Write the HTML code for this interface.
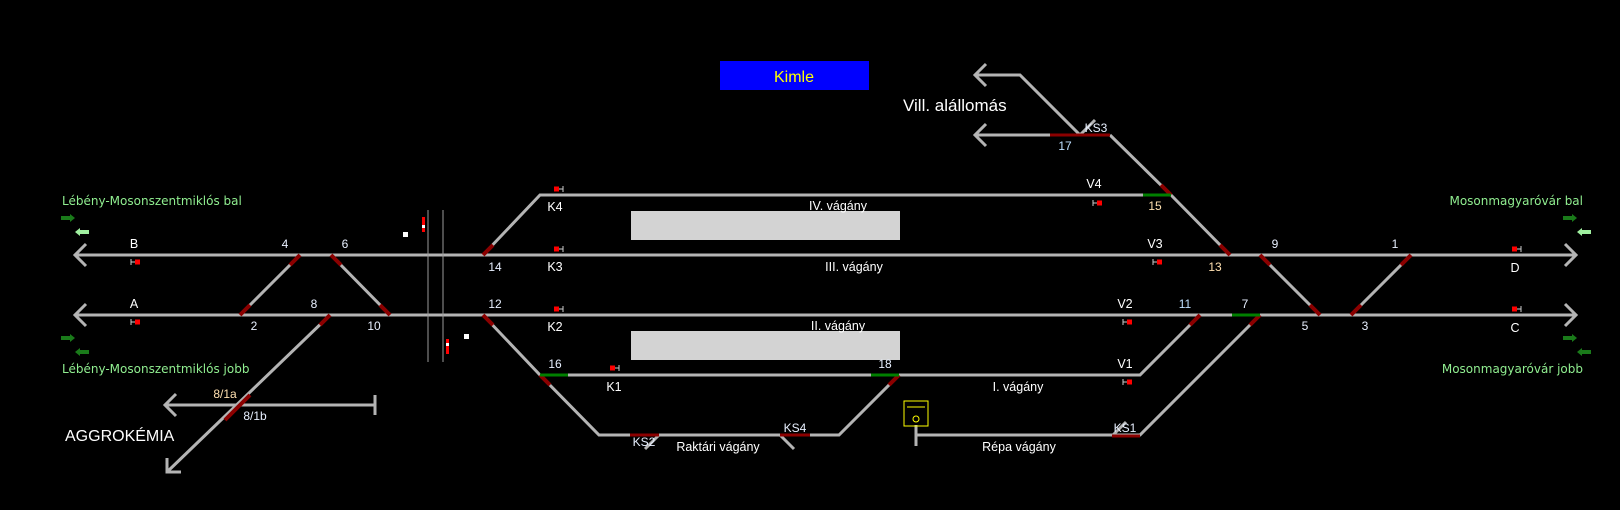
<!DOCTYPE html>
<html><head><meta charset="utf-8"><style>
html,body{margin:0;padding:0;background:#000;}
svg{display:block}
text{font-family:"Liberation Sans",sans-serif;}
.n{font-family:"DejaVu Sans Mono","Liberation Mono",monospace;font-size:12px;fill:#e8f0ff}
.l{font-size:12.5px;fill:#fff}
.g{font-size:12px;fill:#90ee90;font-family:"DejaVu Sans","Liberation Sans",sans-serif}
</style></head><body>
<svg width="1620" height="510" viewBox="0 0 1620 510" xmlns="http://www.w3.org/2000/svg">
<rect width="1620" height="510" fill="#000"/>
<rect x="720" y="61" width="149" height="29" fill="#0000ff"/>
<text x="794" y="82" font-size="16" fill="#ffff00" text-anchor="middle">Kimle</text>
<text x="903" y="111" font-size="17" fill="#fff">Vill. alállomás</text>
<rect x="631" y="211" width="269" height="29" fill="#d3d3d3"/>
<rect x="631" y="331" width="269" height="29" fill="#d3d3d3"/>
<g stroke="#b4b4b4" stroke-width="3" fill="none" stroke-linecap="butt">
<line x1="75" y1="255" x2="1576" y2="255"/>
<line x1="75" y1="315" x2="1576" y2="315"/>
<polyline points="86,244 75,255 86,266"/>
<polyline points="86,304 75,315 86,326"/>
<polyline points="1565,244 1576,255 1565,266"/>
<polyline points="1565,304 1576,315 1565,326"/>
<line x1="300" y1="255" x2="240" y2="315"/>
<line x1="331" y1="255" x2="390" y2="315"/>
<line x1="330" y1="315" x2="167" y2="472"/>
<polyline points="181,472 167,472 167,458"/>
<line x1="165" y1="405" x2="375" y2="405"/>
<polyline points="176,394 165,405 176,416"/>
<polyline points="483,255 540,195 1171,195"/>
<polyline points="483,315 540,375 1140,375 1200,315"/>
<polyline points="540,375 599,435 839,435 899,375"/>
<polyline points="916,435 1140,435 1260,315"/>
<polyline points="1230,255 1171,195 1110,135"/>
<line x1="1260" y1="255" x2="1320" y2="315"/>
<line x1="1411" y1="255" x2="1351" y2="315"/>
<polyline points="975,75 1020,75 1080,135"/>
<line x1="975" y1="135" x2="1110" y2="135"/>
<polyline points="986,64 975,75 986,86"/>
<polyline points="986,124 975,135 986,146"/>
<line x1="1080" y1="135" x2="1095" y2="120"/>
<line x1="659" y1="435" x2="645" y2="449"/>
<line x1="780" y1="435" x2="794" y2="449"/>
<line x1="1112" y1="436" x2="1126" y2="422"/>
</g>
<g stroke="#b4b4b4" stroke-width="3">
<line x1="375" y1="395" x2="375" y2="415"/>
<line x1="916" y1="425" x2="916" y2="446"/>
</g>
<g stroke="#8b0000" stroke-width="4">
<line x1="300" y1="255" x2="290" y2="265"/>
<line x1="240" y1="315" x2="250" y2="305"/>
<line x1="331" y1="255" x2="341" y2="265"/>
<line x1="390" y1="315" x2="380" y2="305"/>
<line x1="330" y1="315" x2="320" y2="325"/>
<line x1="250" y1="395" x2="225" y2="420"/>
<line x1="483" y1="255" x2="493" y2="245"/>
<line x1="483" y1="315" x2="493" y2="325"/>
<line x1="540" y1="375" x2="550" y2="385"/>
<line x1="899" y1="375" x2="889" y2="385"/>
<line x1="1171" y1="195" x2="1161" y2="185"/>
<line x1="1230" y1="255" x2="1220" y2="245"/>
<line x1="1260" y1="255" x2="1270" y2="265"/>
<line x1="1320" y1="315" x2="1310" y2="305"/>
<line x1="1411" y1="255" x2="1401" y2="265"/>
<line x1="1351" y1="315" x2="1361" y2="305"/>
<line x1="1200" y1="315" x2="1190" y2="325"/>
<line x1="1260" y1="315" x2="1250" y2="325"/>
<line x1="1050" y1="135" x2="1110" y2="135" stroke-width="3"/>
<line x1="630" y1="435" x2="659" y2="435" stroke-width="3"/>
<line x1="780" y1="435" x2="810" y2="435" stroke-width="3"/>
<line x1="1112" y1="436" x2="1140" y2="436" stroke-width="3"/>
</g>
<g stroke="#008000" stroke-width="3">
<line x1="540" y1="375" x2="568" y2="375"/>
<line x1="871" y1="375" x2="899" y2="375"/>
<line x1="1143" y1="195" x2="1171" y2="195"/>
<line x1="1232" y1="315" x2="1260" y2="315"/>
</g>
<g stroke="#9a9a9a" stroke-width="1">
<line x1="428" y1="210" x2="428" y2="362"/>
<line x1="443" y1="210" x2="443" y2="362"/>
</g>
<rect x="422" y="217" width="3" height="15" fill="#ff0000"/><rect x="422" y="225" width="3" height="3" fill="#fff"/>
<rect x="446" y="339" width="3" height="15" fill="#ff0000"/><rect x="446" y="343" width="3" height="3" fill="#fff"/>
<rect x="403" y="232" width="5" height="5" fill="#fff"/>
<rect x="464" y="334" width="5" height="5" fill="#fff"/>
<g fill="#ff0000" stroke="#ccc" stroke-width="1">
<g transform="translate(131,262)"><line x1="0" y1="-3" x2="0" y2="3"/><line x1="0" y1="0" x2="4" y2="0"/><rect x="4" y="-2.5" width="5" height="5" stroke="none"/></g>
<g transform="translate(131,322)"><line x1="0" y1="-3" x2="0" y2="3"/><line x1="0" y1="0" x2="4" y2="0"/><rect x="4" y="-2.5" width="5" height="5" stroke="none"/></g>
<g transform="translate(1093,203)"><line x1="0" y1="-3" x2="0" y2="3"/><line x1="0" y1="0" x2="4" y2="0"/><rect x="4" y="-2.5" width="5" height="5" stroke="none"/></g>
<g transform="translate(1153,262)"><line x1="0" y1="-3" x2="0" y2="3"/><line x1="0" y1="0" x2="4" y2="0"/><rect x="4" y="-2.5" width="5" height="5" stroke="none"/></g>
<g transform="translate(1123,322)"><line x1="0" y1="-3" x2="0" y2="3"/><line x1="0" y1="0" x2="4" y2="0"/><rect x="4" y="-2.5" width="5" height="5" stroke="none"/></g>
<g transform="translate(1123,382)"><line x1="0" y1="-3" x2="0" y2="3"/><line x1="0" y1="0" x2="4" y2="0"/><rect x="4" y="-2.5" width="5" height="5" stroke="none"/></g>
<g transform="translate(563,189)"><line x1="0" y1="-3" x2="0" y2="3"/><line x1="0" y1="0" x2="-4" y2="0"/><rect x="-9" y="-2.5" width="5" height="5" stroke="none"/></g>
<g transform="translate(563,249)"><line x1="0" y1="-3" x2="0" y2="3"/><line x1="0" y1="0" x2="-4" y2="0"/><rect x="-9" y="-2.5" width="5" height="5" stroke="none"/></g>
<g transform="translate(563,309)"><line x1="0" y1="-3" x2="0" y2="3"/><line x1="0" y1="0" x2="-4" y2="0"/><rect x="-9" y="-2.5" width="5" height="5" stroke="none"/></g>
<g transform="translate(619,368)"><line x1="0" y1="-3" x2="0" y2="3"/><line x1="0" y1="0" x2="-4" y2="0"/><rect x="-9" y="-2.5" width="5" height="5" stroke="none"/></g>
<g transform="translate(1521,249)"><line x1="0" y1="-3" x2="0" y2="3"/><line x1="0" y1="0" x2="-4" y2="0"/><rect x="-9" y="-2.5" width="5" height="5" stroke="none"/></g>
<g transform="translate(1521,309)"><line x1="0" y1="-3" x2="0" y2="3"/><line x1="0" y1="0" x2="-4" y2="0"/><rect x="-9" y="-2.5" width="5" height="5" stroke="none"/></g>
</g>
<rect x="904" y="401" width="24" height="25" fill="none" stroke="#ffff00" stroke-width="1"/>
<line x1="907" y1="407" x2="925" y2="407" stroke="#ffff00"/>
<circle cx="916" cy="419" r="3" fill="none" stroke="#ffff00"/>
<g>
<polygon points="61,216 70,216 70,214 75,218 70,222 70,220 61,220" fill="#1a7a1a"/>
<polygon points="89,230 80,230 80,228 75,232 80,236 80,234 89,234" fill="#a0f0a0"/>
<polygon points="61,336 70,336 70,334 75,338 70,342 70,340 61,340" fill="#1a7a1a"/>
<polygon points="89,350 80,350 80,348 75,352 80,356 80,354 89,354" fill="#1a7a1a"/>
<polygon points="1563,216 1572,216 1572,214 1577,218 1572,222 1572,220 1563,220" fill="#1a7a1a"/>
<polygon points="1591,230 1582,230 1582,228 1577,232 1582,236 1582,234 1591,234" fill="#a0f0a0"/>
<polygon points="1563,336 1572,336 1572,334 1577,338 1572,342 1572,340 1563,340" fill="#1a7a1a"/>
<polygon points="1591,350 1582,350 1582,348 1577,352 1582,356 1582,354 1591,354" fill="#1a7a1a"/>
</g>
<text class="g" x="62" y="205">Lébény-Mosonszentmiklós bal</text>
<text class="g" x="62" y="373">Lébény-Mosonszentmiklós jobb</text>
<text class="g" x="1583" y="205" text-anchor="end">Mosonmagyaróvár bal</text>
<text class="g" x="1583" y="373" text-anchor="end">Mosonmagyaróvár jobb</text>
<text x="65" y="441" font-size="16" fill="#fff">AGGROKÉMIA</text>
<g class="l" text-anchor="middle">
<text x="134" y="248">B</text><text x="134" y="308">A</text>
<text x="555" y="211">K4</text><text x="555" y="271">K3</text><text x="555" y="331">K2</text><text x="614" y="391">K1</text>
<text x="838" y="210">IV. vágány</text><text x="854" y="271">III. vágány</text><text x="838" y="330">II. vágány</text>
<text x="1018" y="391">I. vágány</text><text x="718" y="451">Raktári vágány</text><text x="1019" y="451">Répa vágány</text>
<text x="1094" y="188">V4</text><text x="1155" y="248">V3</text><text x="1125" y="308">V2</text><text x="1125" y="368">V1</text>
<text x="1515" y="272">D</text><text x="1515" y="332">C</text>
</g>
<g class="n" text-anchor="middle">
<text x="285" y="248">4</text><text x="345" y="248">6</text><text x="314" y="308">8</text>
<text x="254" y="330">2</text><text x="374" y="330">10</text>
<text x="495" y="271">14</text><text x="495" y="308">12</text>
<text x="555" y="368">16</text><text x="885" y="368">18</text>
<text x="644" y="446">KS2</text><text x="795" y="432">KS4</text><text x="1125" y="432">KS1</text>
<text x="1096" y="132">KS3</text><text x="1065" y="150" fill="#bfe0ff">17</text>
<text x="1155" y="210" fill="#ffe0b0">15</text><text x="1215" y="271" fill="#ffe0b0">13</text>
<text x="1275" y="248">9</text><text x="1395" y="248">1</text>
<text x="1185" y="308" fill="#bfe0ff">11</text><text x="1245" y="308">7</text>
<text x="1305" y="330">5</text><text x="1365" y="330">3</text>
<text x="225" y="398" fill="#ffe0b0">8/1a</text><text x="255" y="420">8/1b</text>
</g>
</svg>
</body></html>
